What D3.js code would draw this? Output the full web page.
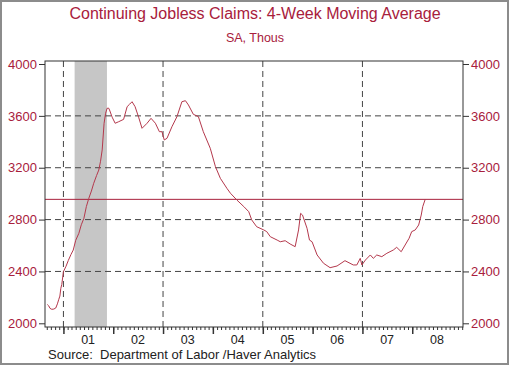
<!DOCTYPE html>
<html><head><meta charset="utf-8">
<script src="https://cdn.jsdelivr.net/npm/d3@7"></script>
<style>
html,body{margin:0;padding:0;background:#fff;}
svg{display:block;font-family:"Liberation Sans",Arial,sans-serif;}
</style></head>
<body><svg id="c" width="510" height="367"></svg>
<script>
const titleText = "Continuing Jobless Claims: 4-Week Moving Average";
const subtitleText = "SA, Thous";
const sourceText = "Source:  Department of Labor /Haver Analytics";

const dates = ["2000-09-05","2000-09-15","2000-09-25","2000-10-08","2000-10-23","2000-11-06","2000-11-18","2000-11-28","2000-12-06","2000-12-13","2000-12-20",
"2001-01-01","2001-01-20","2001-02-06","2001-02-25","2001-03-14","2001-04-01","2001-04-24","2001-05-12","2001-05-31","2001-06-18","2001-07-06","2001-07-25","2001-08-11","2001-09-01","2001-09-17","2001-09-30","2001-10-12","2001-10-26","2001-11-06","2001-11-17","2001-11-28","2001-12-05","2001-12-24",
"2002-01-15","2002-02-10","2002-03-18","2002-04-13","2002-05-01","2002-05-19","2002-06-10","2002-07-06","2002-07-31","2002-09-06","2002-10-05","2002-11-06","2002-12-05","2002-12-24",
"2003-01-10","2003-01-30","2003-03-07","2003-04-13","2003-05-19","2003-06-14","2003-07-06","2003-08-11","2003-09-17","2003-10-23","2003-12-13",
"2004-01-20","2004-02-25","2004-04-13","2004-05-09","2004-06-25","2004-08-15","2004-09-20","2004-10-12","2004-11-17",
"2005-01-08","2005-01-30","2005-02-25","2005-04-16","2005-05-09","2005-06-14","2005-07-20","2005-08-26","2005-09-20","2005-10-05","2005-10-19","2005-11-21","2005-12-09","2005-12-28",
"2006-02-03","2006-03-22","2006-05-09","2006-06-29","2006-08-26","2006-10-26","2006-11-21","2006-12-16","2006-12-28",
"2007-01-23","2007-02-28","2007-03-22","2007-04-16","2007-05-23","2007-06-29","2007-08-15","2007-09-09","2007-10-12","2007-11-10","2007-12-09","2007-12-28",
"2008-01-23","2008-02-17","2008-03-07","2008-03-18","2008-04-05"];

const claims = [2145,2135,2115,2108,2110,2118,2150,2185,2210,2270,2300,
2398,2440,2485,2530,2565,2640,2694,2760,2810,2900,2964,3020,3080,3140,3182,3250,3337,3543,3620,3658,3660,3645,3590,
3543,3555,3573,3671,3690,3709,3671,3590,3504,3543,3581,3543,3478,3478,
3414,3427,3516,3594,3709,3717,3684,3612,3594,3478,3350,
3208,3118,3041,3003,2951,2900,2861,2797,2745,
2720,2707,2668,2642,2629,2637,2612,2591,2720,2848,2835,2733,2642,2629,
2527,2463,2429,2442,2483,2450,2450,2501,2450,
2488,2527,2501,2527,2514,2540,2565,2586,2552,2604,2656,2707,
2720,2758,2835,2900,2956];

const refLevel = 2956;
const yTicks = [2000,2400,2800,3200,3600,4000];
const yGrid = [2400,2800,3200,3600];
const yearLabels = ["01","02","03","04","05","06","07","08"];
const yearStarts = ["2001","2002","2003","2004","2005","2006","2007","2008"];
const vGridYears = ["2001","2003","2005","2007"];
const recession = ["2001-03-24","2001-11-16"];
const xDomain = ["2000-08-19","2009-01-07"];

const parse = d3.timeParse("%Y-%m-%d");
const parseY = d3.timeParse("%Y");
const data = dates.map((d,i)=>({date:parse(d), v:claims[i]}));

const red = "#A8203C";
const svg = d3.select("#c");
const L=45, R=463, T=61, B=327;

const x = d3.scaleTime().domain(xDomain.map(parse)).range([L,R]);
const y = d3.scaleLinear().domain([2000,4000]).range([323.3,64]);

// outer border
svg.append("rect").attr("x",1).attr("y",1).attr("width",507).attr("height",363)
  .attr("fill","none").attr("stroke","#8c8c8c").attr("stroke-width",2);

// titles
svg.append("text").attr("x",255).attr("y",19).attr("text-anchor","middle")
  .attr("font-size",16).attr("fill",red).text(titleText);
svg.append("text").attr("x",255).attr("y",42).attr("text-anchor","middle")
  .attr("font-size",12.5).attr("fill",red).text(subtitleText);

// recession shade
svg.append("rect").attr("x",x(parse(recession[0]))).attr("y",T)
  .attr("width",x(parse(recession[1]))-x(parse(recession[0]))).attr("height",B-T)
  .attr("fill","#c6c6c6");

// grid
const g = svg.append("g");
g.selectAll(".hg").data(yGrid).join("line")
  .attr("x1",L).attr("x2",R).attr("y1",d=>y(d)).attr("y2",d=>y(d))
  .attr("stroke","#444").attr("stroke-width",1).attr("stroke-dasharray","6,4");
g.selectAll(".vg").data(vGridYears).join("line")
  .attr("x1",d=>x(parseY(d))).attr("x2",d=>x(parseY(d))).attr("y1",T).attr("y2",B)
  .attr("stroke","#444").attr("stroke-width",1).attr("stroke-dasharray","6,4");

// reference line
svg.append("line").attr("x1",L).attr("x2",R).attr("y1",y(refLevel)).attr("y2",y(refLevel))
  .attr("stroke",red).attr("stroke-width",1);

// series
svg.append("path").datum(data)
  .attr("d",d3.line().x(d=>x(d.date)).y(d=>y(d.v)))
  .attr("fill","none").attr("stroke","#b4384c").attr("stroke-width",1);

// frame
svg.append("rect").attr("x",L).attr("y",T).attr("width",R-L).attr("height",B-T)
  .attr("fill","none").attr("stroke","#333").attr("stroke-width",1);

// y axes
const yl = svg.append("g").attr("transform",`translate(${L},0)`)
  .call(d3.axisLeft(y).tickValues(yTicks).tickSize(6).tickPadding(2).tickFormat(d3.format("d")));
const yr = svg.append("g").attr("transform",`translate(${R},0)`)
  .call(d3.axisRight(y).tickValues(yTicks).tickSize(6).tickPadding(2).tickFormat(d3.format("d")));
[yl,yr].forEach(a=>{
  a.select(".domain").remove();
  a.selectAll("line").attr("stroke","#333");
  a.selectAll("text").attr("fill",red).attr("font-size",13).attr("font-family","Liberation Sans, Arial, sans-serif");
});

// x axis: month minor ticks, year major ticks
const months = d3.timeMonth.range(x.domain()[0], x.domain()[1]);
const xm = svg.append("g").attr("transform",`translate(0,${B})`)
  .call(d3.axisBottom(x).tickValues(months).tickSize(3).tickFormat(""));
xm.select(".domain").remove();
xm.selectAll("text").remove();
xm.selectAll("line").attr("stroke","#333");
const xy = svg.append("g").attr("transform",`translate(0,${B})`)
  .call(d3.axisBottom(x).tickValues(yearStarts.map(parseY)).tickSize(7).tickFormat(""));
xy.select(".domain").remove();
xy.selectAll("text").remove();
xy.selectAll("line").attr("stroke","#333").attr("stroke-width",1.5);

svg.append("g").selectAll("text").data(yearStarts).join("text")
  .attr("x",(d,i)=>x(d3.timeMonth.offset(parseY(d),6)))
  .attr("y",344).attr("text-anchor","middle").attr("font-size",12.5).attr("fill","#222")
  .text((d,i)=>yearLabels[i]);

svg.append("text").attr("x",48).attr("y",359).attr("font-size",13).attr("fill","#222")
  .attr("xml:space","preserve").style("white-space","pre").text(sourceText);
</script></body></html>
